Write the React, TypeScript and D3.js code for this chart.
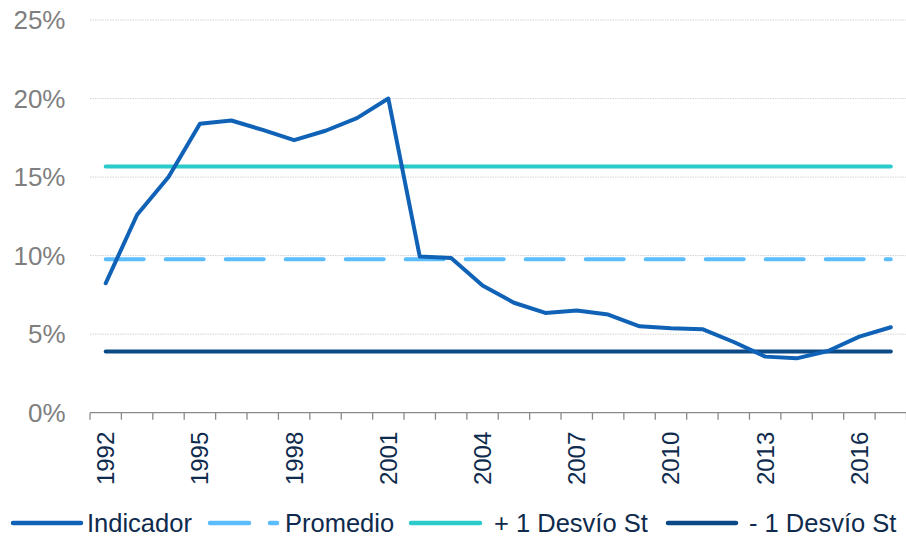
import { useEffect, useRef } from 'react';
import * as d3 from 'd3';

const years = d3.range(1992, 2018).map(String);
const indicador = [
  8.24, 12.6, 15.0, 18.4, 18.6, 18.0, 17.35, 17.95, 18.75, 20.0,
  9.95, 9.85, 8.1, 7.0, 6.35, 6.5, 6.25, 5.5, 5.38, 5.32,
  4.5, 3.57, 3.46, 3.93, 4.84, 5.44,
];
const promedio = 9.77;
const masDesvio = 15.67;
const menosDesvio = 3.89;
const yTicks = [0, 5, 10, 15, 20, 25];
const xLabelYears = ['1992', '1995', '1998', '2001', '2004', '2007', '2010', '2013', '2016'];

const C_IND = '#0F62B6';
const C_PROM = '#5CBDFD';
const C_MAS = '#2CCACA';
const C_MENOS = '#0B4A86';
const C_TEXT = '#0E2A4C';
const FONT = 'Liberation Sans, Arial, sans-serif';

export default function App() {
  const ref = useRef<SVGSVGElement>(null);

  useEffect(() => {
    if (!ref.current) return;
    const W = 906, H = 537;
    const left = 90, right = 906.5, top = 20, bottom = 412.7;

    const svg = d3.select(ref.current);
    svg.selectAll('*').remove();
    svg.attr('width', W).attr('height', H).style('font-family', FONT);

    const x = d3.scaleBand().domain(years).range([left, right]);
    const cx = (yr: string) => (x(yr) as number) + x.bandwidth() / 2;
    const y = d3.scaleLinear().domain([0, 25]).range([bottom, top]);

    // gridlines
    svg.append('g')
      .selectAll('line')
      .data(yTicks.filter((t) => t > 0))
      .enter()
      .append('line')
      .attr('x1', left).attr('x2', right)
      .attr('y1', (d) => y(d)).attr('y2', (d) => y(d))
      .attr('stroke', '#d4d4d4')
      .attr('stroke-width', 1)
      .attr('stroke-dasharray', '1.5 1');

    // y labels
    svg.append('g')
      .selectAll('text')
      .data(yTicks)
      .enter()
      .append('text')
      .attr('x', 65.5)
      .attr('y', (d) => y(d))
      .attr('dy', '0.35em')
      .attr('text-anchor', 'end')
      .attr('font-size', 26)
      .attr('fill', '#7f7f7f')
      .text((d) => `${d}%`);

    // x axis
    const ax = svg.append('g');
    ax.append('line')
      .attr('x1', left).attr('x2', right)
      .attr('y1', bottom).attr('y2', bottom)
      .attr('stroke', '#8a8a8a').attr('stroke-width', 1.3);
    const edges = years.map((yr) => x(yr) as number).concat([right]);
    ax.selectAll('.tk')
      .data(edges)
      .enter()
      .append('line')
      .attr('x1', (d) => d).attr('x2', (d) => d)
      .attr('y1', bottom).attr('y2', bottom + 7)
      .attr('stroke', '#8a8a8a').attr('stroke-width', 1.3);

    ax.selectAll('.xl')
      .data(xLabelYears)
      .enter()
      .append('text')
      .attr('transform', (d) => `translate(${cx(d) + 8.5},${bottom + 19}) rotate(-90)`)
      .attr('text-anchor', 'end')
      .attr('font-size', 24)
      .attr('fill', C_TEXT)
      .text((d) => d);

    const x0 = cx(years[0]);
    const x1 = cx(years[years.length - 1]);
    const hline = (v: number, color: string, dash?: string) => {
      const l = svg.append('line')
        .attr('x1', x0).attr('x2', x1)
        .attr('y1', y(v)).attr('y2', y(v))
        .attr('stroke', color)
        .attr('stroke-width', 4)
        .attr('stroke-linecap', 'round');
      if (dash) l.attr('stroke-dasharray', dash);
    };

    hline(masDesvio, C_MAS);
    hline(menosDesvio, C_MENOS);
    hline(promedio, C_PROM, '38 22');

    const line = d3.line<number>()
      .x((_, i) => cx(years[i]))
      .y((d) => y(d));
    svg.append('path')
      .datum(indicador)
      .attr('d', line)
      .attr('fill', 'none')
      .attr('stroke', C_IND)
      .attr('stroke-width', 4)
      .attr('stroke-linejoin', 'round')
      .attr('stroke-linecap', 'round');

    // legend
    const ly = 523;
    const lg = svg.append('g');
    const seg = (xa: number, xb: number, color: string) =>
      lg.append('line')
        .attr('x1', xa).attr('x2', xb)
        .attr('y1', ly).attr('y2', ly)
        .attr('stroke', color)
        .attr('stroke-width', 4.5)
        .attr('stroke-linecap', 'round');
    const label = (xa: number, t: string) =>
      lg.append('text')
        .attr('x', xa).attr('y', ly + 8.5)
        .attr('font-size', 25.5)
        .attr('fill', C_TEXT)
        .text(t);

    seg(13, 81, C_IND);
    label(87, 'Indicador');
    seg(210, 249, C_PROM);
    seg(270, 277, C_PROM);
    label(285, 'Promedio');
    seg(411, 480, C_MAS);
    label(494, '+ 1 Desvío St');
    seg(668, 736, C_MENOS);
    label(749, '- 1 Desvío St');
  }, []);

  return (
    <div style={{ position: 'absolute', left: 0, top: 0, width: 906, height: 537, background: '#fff' }}>
      <svg ref={ref} style={{ display: 'block' }} />
    </div>
  );
}
